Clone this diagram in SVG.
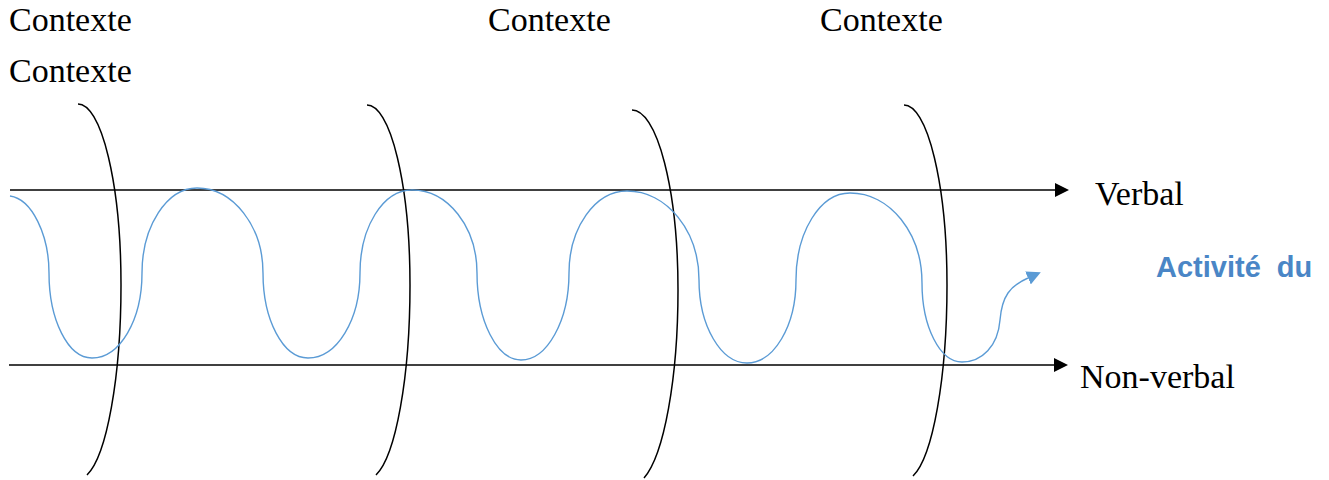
<svg xmlns="http://www.w3.org/2000/svg" width="1329" height="480" viewBox="0 0 1329 480">
<style>
.lbl{font-family:'Liberation Serif','Times New Roman',Times,serif;font-size:34px;fill:#000}
.act{font-family:'Liberation Sans',Arial,Helvetica,sans-serif;font-size:29px;font-weight:bold;fill:#4A86C6}
.axis{fill:none;stroke:#000;stroke-width:1.4}
.arc{fill:none;stroke:#000;stroke-width:1.5}
.wave{fill:none;stroke:#5B9BD5;stroke-width:1.4}
</style>
<defs>
<marker id="ah" markerUnits="userSpaceOnUse" markerWidth="14" markerHeight="14" refX="0" refY="7" orient="auto">
<path d="M0,0 L14,7 L0,14 z" fill="#000"/>
</marker>
<marker id="ahb" markerUnits="userSpaceOnUse" markerWidth="14" markerHeight="14" refX="0" refY="7" orient="auto">
<path d="M0,0 L14,7 L0,14 z" fill="#5B9BD5"/>
</marker>
</defs>
<rect width="1329" height="480" fill="#fff"/>
<g id="contexte-1"><text class="lbl" font-family="Liberation Serif, serif" x="9" y="31">Contexte</text></g>
<g id="contexte-2"><text class="lbl" font-family="Liberation Serif, serif" x="9" y="82">Contexte</text></g>
<g id="contexte-3"><text class="lbl" font-family="Liberation Serif, serif" x="488" y="31">Contexte</text></g>
<g id="contexte-4"><text class="lbl" font-family="Liberation Serif, serif" x="820" y="31">Contexte</text></g>
<g id="arcs">
<path class="arc" d="M78,104 A43,181 0 0 1 121,285 A43,194.3 0 0 1 87,475"/>
<path class="arc" d="M367,105 A43,180 0 0 1 410,285 A43,194.3 0 0 1 376,475"/>
<path class="arc" d="M632,110 A46,180 0 0 1 678,290 A46,194.7 0 0 1 644,478"/>
<path class="arc" d="M904,105 A43,180 0 0 1 947,285 A43,195.3 0 0 1 913,476"/>
</g>
<g id="connectors">
<path class="axis" d="M10,190 L1055,190" marker-end="url(#ah)"/>
<path class="axis" d="M9,365 L1054,365" marker-end="url(#ah)"/>
</g>
<g id="wave">
<path class="wave" marker-end="url(#ahb)" d="M10,196 C32,199 49,235 49,273 C49,320 68,358 92,358 C120,358 142,320 142,273 C142,226 167,188 197,188 C233,188 263,226 263,273 C263,320 283,358 308,358 C337,358 360,320 360,273 C360,227 383,190 412,190 C448,190 477,227 477,273 C477,321 497,360 521,360 C547,360 569,321 569,273 C569,228 595,191 627,191 C667,191 699,231 699,280 C699,326 721,363 747,363 C774,363 796,326 796,280 C796,232 820,193 850,193 C890,193 922,233 922,283 C922,327 940,362 962,362 C982,362 998,346 1000,320 C1002,296 1010,286 1028,278"/>
</g>
<g id="verbal"><text class="lbl" font-family="Liberation Serif, serif" x="1095" y="205">Verbal</text></g>
<g id="non-verbal"><text class="lbl" font-family="Liberation Serif, serif" x="1080" y="388">Non-verbal</text></g>
<g id="activite"><text class="act" x="1156" y="277" word-spacing="8">Activité du</text></g>
</svg>
